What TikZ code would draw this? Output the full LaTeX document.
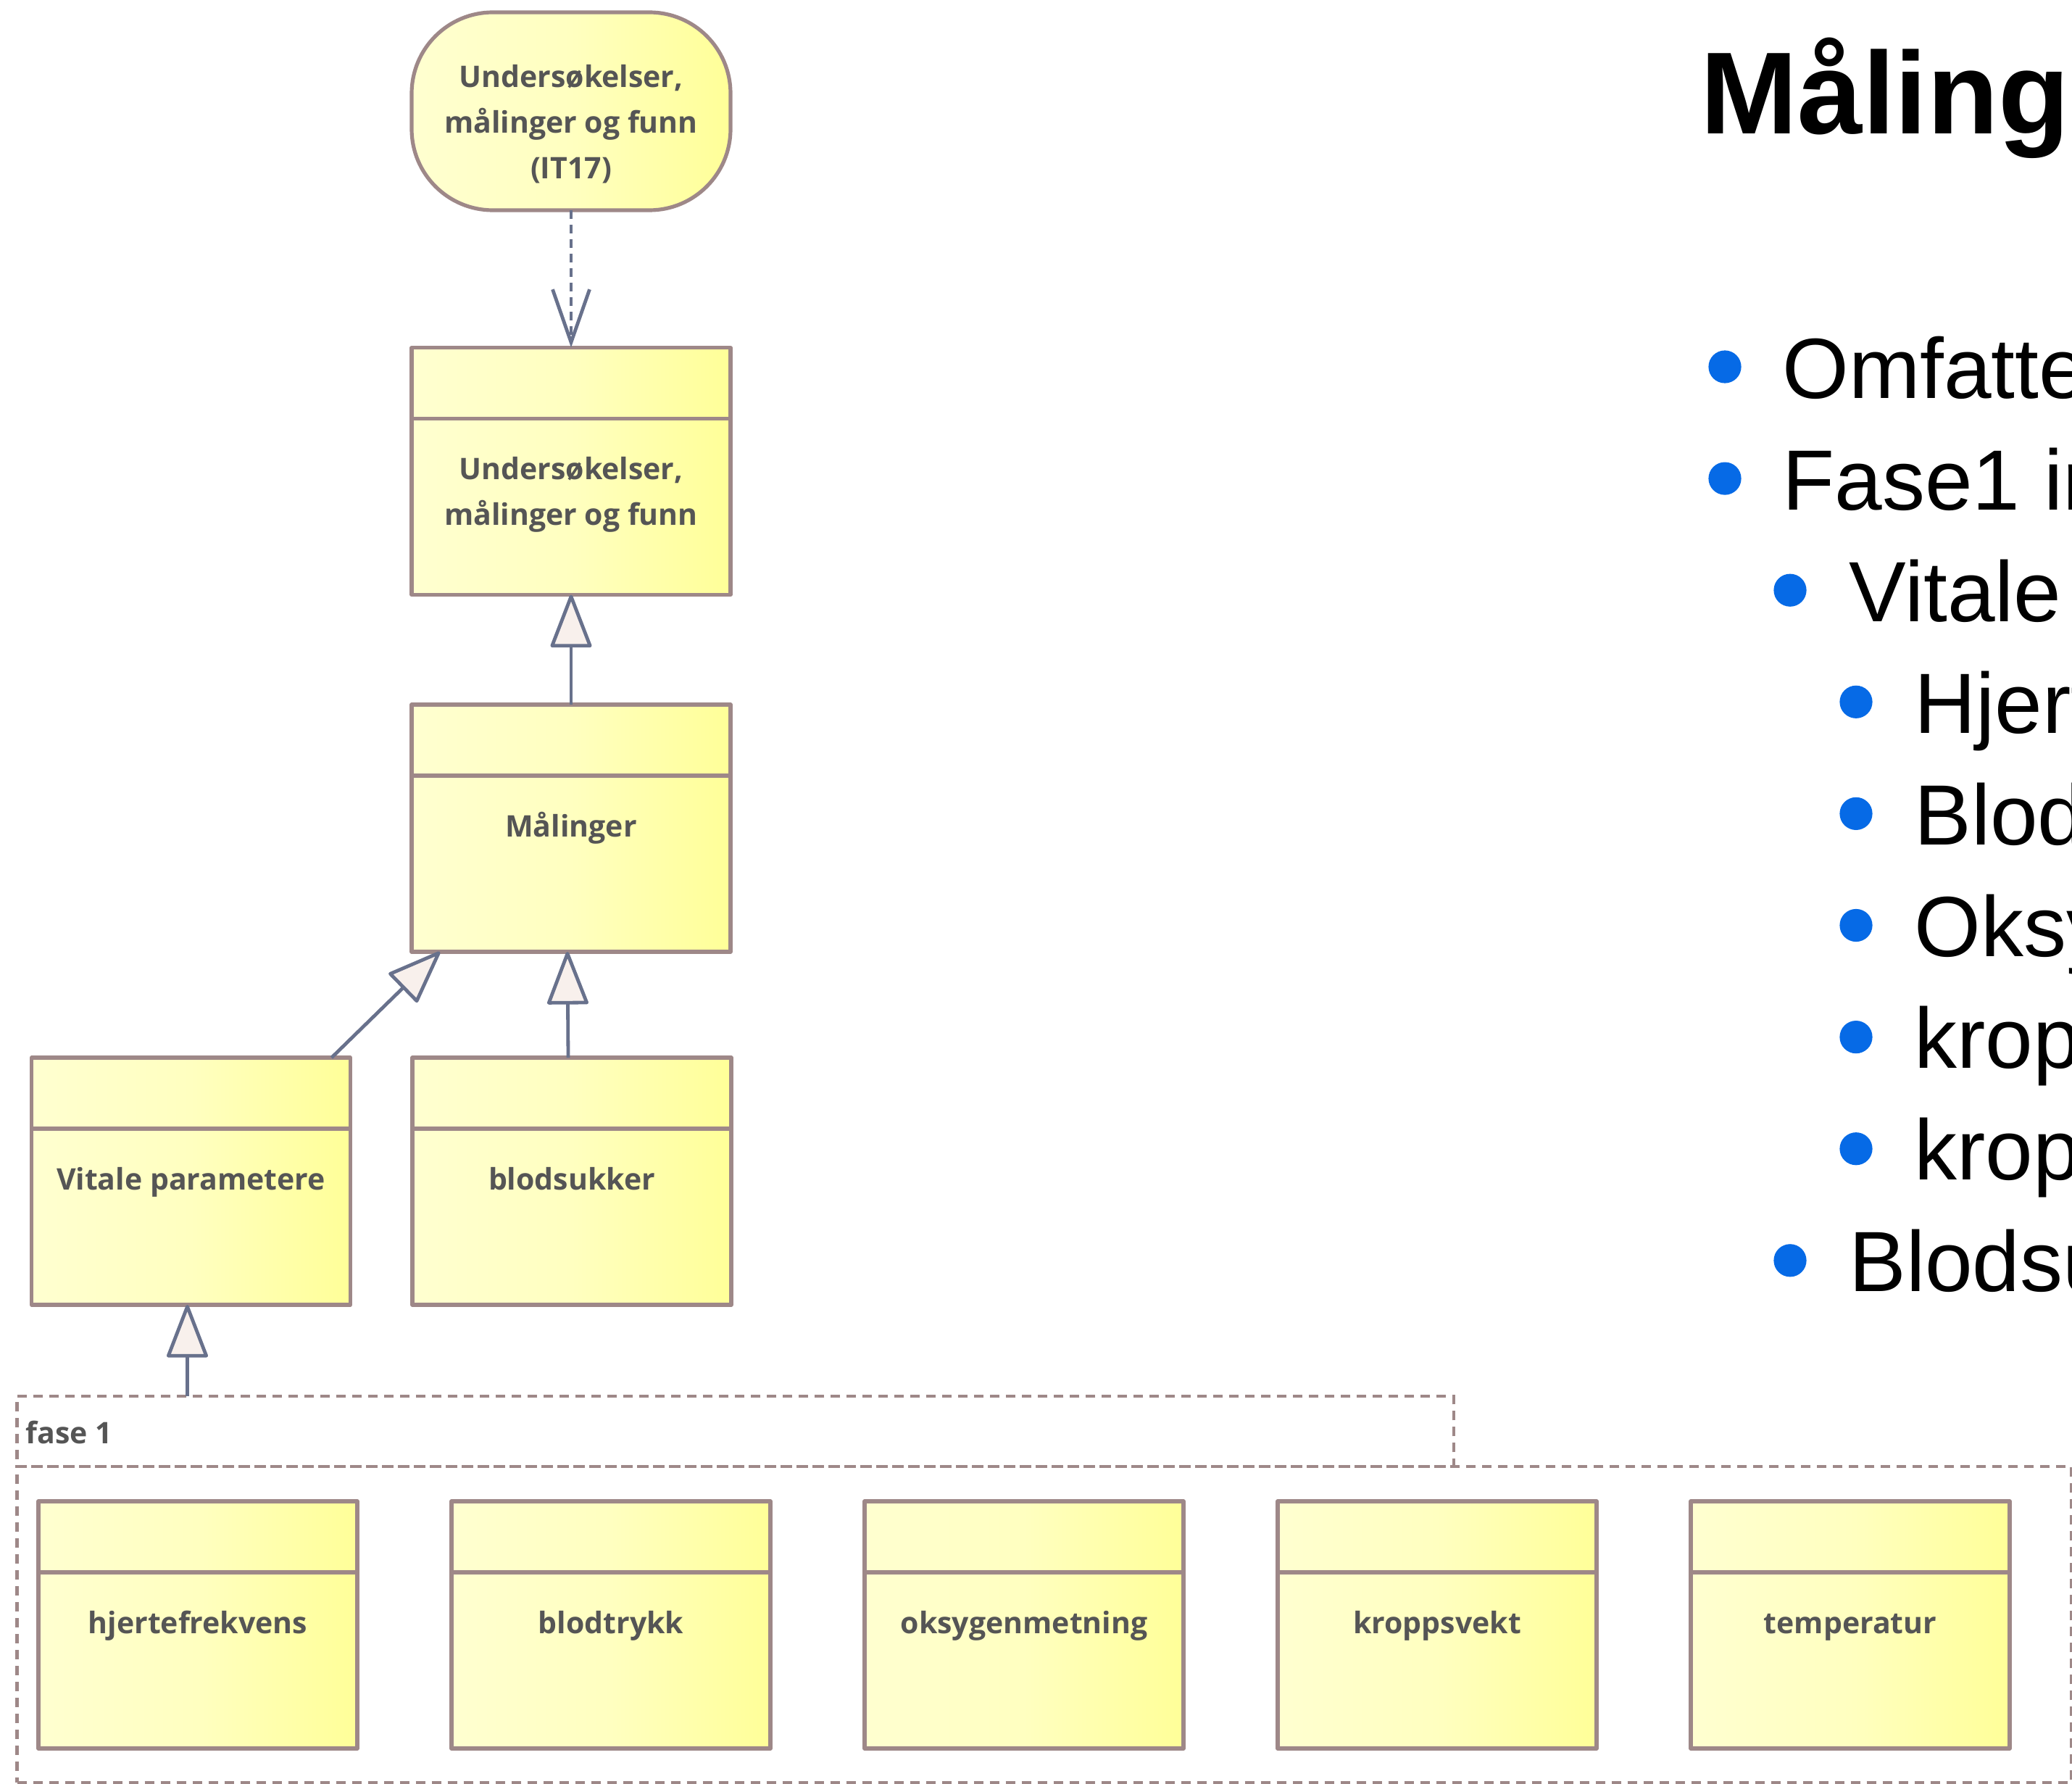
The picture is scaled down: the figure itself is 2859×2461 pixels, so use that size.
\documentclass[tikz,border=0pt]{standalone}
\usepackage{fontspec}
\setmainfont{Liberation Sans}
\newfontfamily\umlfont{Open Sans}
\usetikzlibrary{arrows.meta}

\definecolor{boxline}{RGB}{158,136,136}
\definecolor{yelA}{RGB}{255,255,208}
\definecolor{yelM}{RGB}{255,255,192}
\definecolor{yelB}{RGB}{255,255,152}
\definecolor{umltext}{RGB}{85,85,85}
\definecolor{connline}{RGB}{104,113,140}
\definecolor{trifill}{RGB}{248,240,236}
\definecolor{bulletblue}{RGB}{6,106,230}

\tikzset{
  classbox/.style={draw=boxline, line width=2.6pt, line join=round,
    left color=yelA, right color=yelB, middle color=yelM,
    minimum width=220pt, minimum height=170.5pt, inner sep=0pt, outer sep=0pt,
    anchor=north west},
  usecase/.style={draw=boxline, line width=2.6pt, rounded corners=56pt,
    left color=yelA, right color=yelB, middle color=yelM,
    minimum width=220pt, minimum height=136.5pt, inner sep=0pt, outer sep=0pt},
  divider/.style={draw=boxline, line width=2.6pt},
  umllabel/.style={font=\umlfont\bfseries\fontsize{20.5pt}{31.5pt}\selectfont,
    text=umltext, anchor=base, inner sep=0pt},
  pkg/.style={draw=boxline, line width=2.3pt, dash pattern=on 6.5pt off 4.5pt,
    inner sep=0pt, outer sep=0pt, anchor=north west},
  gen/.style={draw=connline, line width=2.4pt,
    -{Triangle[length=38.5pt, width=29pt, fill=trifill, round]}},
  dep/.style={draw=connline, line width=2.4pt, dash pattern=on 6pt off 4pt,
    -{Straight Barb[length=36.5pt, width=25.5pt]}},
  bulletdot/.style={circle, fill=bulletblue, minimum size=22.6pt, inner sep=0pt},
  itemtext/.style={anchor=base west, inner sep=0pt,
    font=\fontsize{59pt}{70pt}\selectfont},
  slidetitle/.style={anchor=base west, inner sep=0pt,
    font=\bfseries\fontsize{80.5pt}{96pt}\selectfont},
}

% class box: name, left, top, label
\newcommand\umlclass[4]{%
  \node[classbox] (#1) at (#2,#3) {};
  \draw[divider] ([yshift=-49pt]#1.north west) -- ([yshift=-49pt]#1.north east);
  \node[umllabel] (#1-label) at ([yshift=-91pt]#1.north) {#4};
}

\begin{document}
\begin{tikzpicture}[x=0.5pt, y=-0.5pt]
  \useasboundingbox (0,0) rectangle (2859,2461);
  \fill[white] (0,0) rectangle (2859,2461);
  \clip (0,0) rectangle (2859,2461);

  % package "fase 1"
  \node[pkg, minimum width=991.15pt, minimum height=48.5pt] (fasetab) at (23.7,1926) {};
  \node[pkg, minimum width=1417.15pt, minimum height=218pt] (fasebody) at (23.7,2023) {};
  \node[umllabel, anchor=base west] (fasetab-label) at (35,1991) {fase 1};

  % use case
  \node[usecase] (usecase) at (788,153.5) {};
  \node[umllabel] (usecase-label) at ([yshift=-52pt]usecase.north)
    {\begin{tabular}[t]{@{}c@{}}Undersøkelser,\\målinger og funn\\(IT17)\end{tabular}};

  % class hierarchy
  \umlclass{undersok}{568}{479.5}{\begin{tabular}[t]{@{}c@{}}Undersøkelser,\\målinger og funn\end{tabular}}
  \umlclass{malinger}{568}{972}{Målinger}
  \umlclass{vitale}{43.5}{1459}{Vitale parametere}
  \umlclass{blodsukker}{569}{1459}{blodsukker}

  % classes inside the package
  \umlclass{hjerte}{53}{2071}{hjertefrekvens}
  \umlclass{blodtrykk}{623}{2071}{blodtrykk}
  \umlclass{oksygen}{1193}{2071}{oksygenmetning}
  \umlclass{kroppsvekt}{1763}{2071}{kroppsvekt}
  \umlclass{temperatur}{2333}{2071}{temperatur}

  % connectors
  \draw[dep] (usecase.south) -- (undersok.north);
  \draw[gen] (malinger.north) -- (undersok.south);
  \draw[gen] ([xshift=-13pt]vitale.north east) -- ([xshift=19.5pt]malinger.south west);
  \draw[gen] ([xshift=-2.5pt]blodsukker.north) -- ([xshift=-2.5pt]malinger.south);
  \draw[gen] ([xshift=-2.5pt]vitale.south |- fasetab.north) -- ([xshift=-2.5pt]vitale.south);

  % slide text
  \node[slidetitle] (title) at (2346,185) {Målinger};

  \node[bulletdot] (b1) at (2380,506) {};
  \node[itemtext] (i1) at (2459,549) {Omfatter};
  \node[bulletdot] (b2) at (2380,660.1) {};
  \node[itemtext] (i2) at (2459,703.1) {Fase1 inneholder};
  \node[bulletdot] (b3) at (2470,814.2) {};
  \node[itemtext] (i3) at (2551,857.2) {Vitale parametere};
  \node[bulletdot] (b4) at (2561,968.3) {};
  \node[itemtext] (i4) at (2641,1011.3) {Hjertefrekvens};
  \node[bulletdot] (b5) at (2561,1122.4) {};
  \node[itemtext] (i5) at (2641,1165.4) {Blodtrykk};
  \node[bulletdot] (b6) at (2561,1276.5) {};
  \node[itemtext] (i6) at (2641,1319.5) {Oksygenmetning};
  \node[bulletdot] (b7) at (2561,1430.6) {};
  \node[itemtext] (i7) at (2641,1473.6) {kroppsvekt};
  \node[bulletdot] (b8) at (2561,1584.7) {};
  \node[itemtext] (i8) at (2641,1627.7) {kroppstemperatur};
  \node[bulletdot] (b9) at (2470,1738.8) {};
  \node[itemtext] (i9) at (2551,1781.8) {Blodsukker};
\end{tikzpicture}
\end{document}
